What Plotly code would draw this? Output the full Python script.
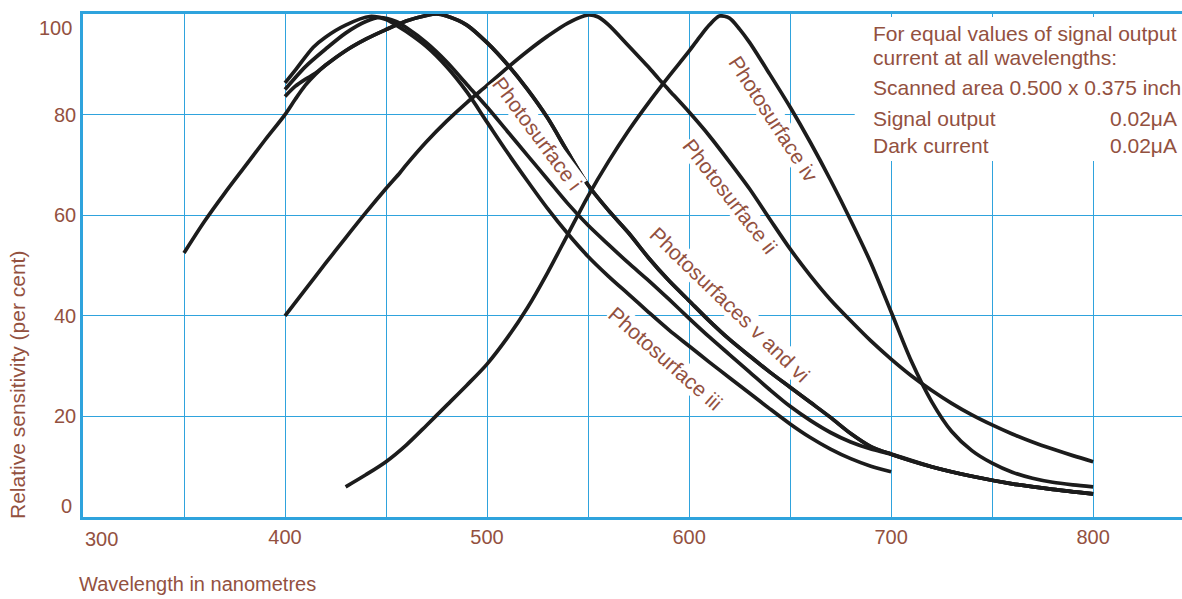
import plotly.graph_objects as go

# ---------------- data ----------------
wl_v = [350, 360, 370, 380, 390, 400, 405, 410, 415, 420, 430, 440, 450, 460, 470, 475, 480, 490,
        500, 510, 520, 530, 540, 550, 560, 570, 580, 590, 600, 610, 620, 630, 640, 650, 660, 670,
        680, 690, 700, 720, 740, 760, 780, 800]
sens_v = [52.5, 58.7, 64.3, 69.6, 74.9, 80, 83, 85.8, 88, 89.8, 92.7, 95, 96.9, 98.6, 99.7, 100, 99.6, 97.8,
          94.3, 90, 85, 79.3, 72.5, 66, 61, 56.5, 51.5, 47, 43, 39, 35.3, 32, 28.8, 25.8, 22.8, 19.8,
          16.6, 14, 12.5, 10, 8.1, 6.6, 5.5, 4.6]

wl_vi = [400, 405, 410, 415, 420, 430, 440, 450, 460, 470, 475, 480, 490,
         500, 510, 520, 530, 540, 550, 560, 570, 580, 590, 600, 610, 620, 630, 640, 650, 660, 670,
         680, 690, 700, 720, 740, 760, 780, 800]
sens_vi = [83.6, 85.6, 87, 88.2, 89.8, 92.7, 95, 96.9, 98.6, 99.7, 100, 99.6, 97.8,
           94.3, 90, 85, 79.3, 72.5, 66, 61, 56.5, 51.5, 47, 43, 39, 35.3, 32, 28.8, 25.8, 22.8, 19.8,
           16.6, 14, 12.5, 10, 8.1, 6.6, 5.5, 4.6]

wl_i = [400, 410, 420, 430, 440, 447, 455, 460, 470, 480, 490, 500, 510, 520, 530, 540, 550, 560,
        570, 580, 590, 600, 610, 620, 630, 640, 650, 660, 670, 680, 690, 700, 720, 740, 760, 780, 800]
sens_i = [85, 89.5, 93, 96.2, 98.5, 99.3, 98.5, 97.3, 94.3, 90.5, 86, 81.5, 76.7, 71.9, 67.1, 62.3, 58, 54.2,
          50.5, 47, 43.3, 39.5, 35.8, 32.3, 28.8, 25.3, 22, 19.2, 16.8, 14.9, 13.5, 12.5, 10, 8.1, 6.6, 5.5, 4.6]

wl_iii = [400, 405, 414, 420, 430, 442, 450, 455, 460, 470, 480, 490, 500, 510, 520, 530, 540, 550,
          560, 570, 580, 590, 600, 610, 620, 630, 640, 650, 660, 670, 680, 690, 700]
sens_iii = [86.3, 88.8, 93.4, 95.4, 97.8, 99.5, 98.9, 97.8, 96.5, 93.5, 89.5, 84.5, 78.5, 72.5, 66.8, 61.3, 56.3, 51.8,
            47.9, 44.3, 40.7, 37.2, 34, 30.8, 27.7, 24.6, 21.5, 18.5, 15.8, 13.5, 11.6, 10.1, 9]

wl_ii = [400, 410, 420, 430, 440, 450, 457, 460, 470, 480, 490, 500, 510, 520, 530, 540, 550, 555,
         560, 570, 580, 585, 590, 600, 610, 620, 630, 640, 650, 660, 670, 680, 690, 700, 710, 720,
         730, 740, 750, 760, 770, 780, 790, 800]
sens_ii = [40, 45.2, 50.4, 55.5, 60.5, 65.3, 68.5, 70, 74.6, 78.7, 82.4, 85.8, 89.3, 92.6, 95.6, 98.2, 99.8, 99.4,
           97.9, 93.7, 89.4, 87.1, 84.9, 80.5, 75.8, 70.6, 65.2, 59.2, 53.3, 48, 43.2, 39, 35, 31.4, 28.1, 25.2,
           22.6, 20.3, 18.3, 16.5, 14.9, 13.5, 12.2, 11]

wl_iv = [430, 440, 450, 460, 470, 480, 490, 500, 510, 520, 530, 540, 550, 560, 570, 580, 590, 600,
         605, 610, 615, 620, 625, 630, 640, 650, 660, 670, 680, 690, 700, 710, 720, 730, 740, 750,
         760, 770, 780, 790, 800]
sens_iv = [6, 8.4, 11, 14.3, 18.2, 22.2, 26.2, 30.4, 35.6, 41.6, 48.6, 56.2, 63.8, 70.6, 76.8, 82.4, 87.6, 92.6,
           95.3, 97.8, 99.6, 99.2, 97, 94.3, 88, 81.5, 74.5, 67, 59, 50.5, 40.8, 31, 23, 17, 13.2, 10.7,
           8.9, 7.7, 6.9, 6.4, 6]

x_tick_vals = [300, 400, 500, 600, 700, 800]
x_tick_text = ["", "400", "500", "600", "700", "800"]
y_tick_vals = [0, 20, 40, 60, 80, 100]
y_tick_text = ["", "20", "40", "60", "80", ""]

curve_labels = ["Photosurface i", "Photosurface ii", "Photosurface iii",
                "Photosurface iv", "Photosurfaces v and vi"]

note_lines = ["For equal values of signal output", "current at all wavelengths:",
              "Scanned area 0.500 x 0.375 inch"]
note_rows = [("Signal output", "0.02μA"), ("Dark current", "0.02μA")]

# ---------------- style ----------------
BROWN = "#93513f"
GRID = "#2fa3dd"
INK = "#1c1c1c"
FONT = "Liberation Sans"

# plot-area pixel geometry
L, R, T, B = 83, 1182, 14, 517
W, H = 1182, 599

fig = go.Figure()
series = [("v", wl_v, sens_v), ("vi", wl_vi, sens_vi), ("i", wl_i, sens_i),
          ("iii", wl_iii, sens_iii), ("ii", wl_ii, sens_ii), ("iv", wl_iv, sens_iv)]
for name, xs, ys in series:
    fig.add_trace(go.Scatter(x=xs, y=ys, mode="lines", name="Photosurface " + name,
                             line=dict(color=INK, width=3.7, shape="spline", smoothing=0.8),
                             showlegend=False, hoverinfo="skip"))

fig.update_layout(
    width=W, height=H,
    margin=dict(l=L, r=W - R, t=T, b=H - B, autoexpand=False),
    paper_bgcolor="white", plot_bgcolor="white",
    font=dict(family=FONT, color=BROWN, size=21),
    xaxis=dict(range=[300, 844], tickvals=x_tick_vals, ticktext=x_tick_text,
               showgrid=True, gridcolor=GRID, gridwidth=1.4,
               minor=dict(dtick=50, tick0=300, showgrid=True, gridcolor=GRID, gridwidth=1.4),
               showline=True, linecolor=GRID, linewidth=2.6, mirror=True,
               ticks="", zeroline=False, automargin=False,
               tickfont=dict(size=20, color=BROWN, family=FONT)),
    yaxis=dict(range=[0, 100], tickvals=y_tick_vals, ticktext=y_tick_text,
               showgrid=True, gridcolor=GRID, gridwidth=1.4,
               showline=True, linecolor=GRID, linewidth=2.6,
               ticks="", zeroline=False, automargin=False,
               tickfont=dict(size=20, color=BROWN, family=FONT)),
)

# white panel behind the note block (covers grid, below traces)
fig.add_shape(type="rect", xref="x", yref="y", x0=682, x1=844, y0=70.8, y1=99.4,
              fillcolor="white", line=dict(width=0), layer="between")

ann = []
# edge tick labels
ann.append(dict(x=300, y=0, xref="x", yref="y", text="300", showarrow=False,
                xanchor="left", yanchor="top", yshift=-9, font=dict(size=20)))
ann.append(dict(x=300, y=0, xref="x", yref="y", text="0", showarrow=False,
                xanchor="right", yanchor="bottom", xshift=-9, yshift=-2, font=dict(size=20)))
ann.append(dict(x=300, y=100, xref="x", yref="y", text="100", showarrow=False,
                xanchor="right", yanchor="top", xshift=-9, yshift=-1, font=dict(size=20)))


def px_to_paper(px, py):
    return (px - L) / (R - L), (B - py) / (B - T)


# axis titles (pixel positions converted to paper coords)
tx, ty = px_to_paper(17, 385)
ann.append(dict(x=tx, y=ty, xref="paper", yref="paper", text="Relative sensitivity (per cent)",
                showarrow=False, textangle=-90, xanchor="center", yanchor="middle"))
tx, ty = px_to_paper(77, 584)
ann.append(dict(x=tx, y=ty, xref="paper", yref="paper", text="Wavelength in nanometres",
                showarrow=False, xanchor="left", yanchor="middle", font=dict(size=20)))

# curve labels
label_pos = [(524.8, 76.2, 53.5), (620.5, 63.8, 52), (588.5, 31.6, 41.5),
             (641.6, 79.2, 57), (620.3, 42.3, 44)]
for txt, (lx, ly, ang) in zip(curve_labels, label_pos):
    ann.append(dict(x=lx, y=ly, xref="x", yref="y", text=txt, showarrow=False,
                    textangle=ang, xanchor="center", yanchor="middle",
                    bgcolor="white", borderpad=0))

# note block
note_y = [96.2, 91.3, 85.3]
for txt, ny in zip(note_lines, note_y):
    ann.append(dict(x=690.3, y=ny, xref="x", yref="y", text=txt, showarrow=False,
                    xanchor="left", yanchor="middle"))
row_y = [79.3, 73.8]
for (lt, rt), ny in zip(note_rows, row_y):
    ann.append(dict(x=690.3, y=ny, xref="x", yref="y", text=lt, showarrow=False,
                    xanchor="left", yanchor="middle"))
    ann.append(dict(x=842.3, y=ny, xref="x", yref="y", text=rt, showarrow=False,
                    xanchor="right", yanchor="middle"))

fig.update_layout(annotations=ann)

fig.write_html("out.html", config={"displayModeBar": False},
               post_script="document.body.style.margin='0';document.body.style.overflow='hidden';")
